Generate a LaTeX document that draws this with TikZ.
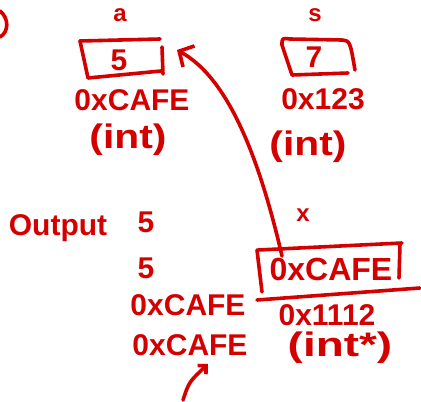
\documentclass[tikz,border=0pt]{standalone}
\usepackage{fontspec}
\setmainfont{Liberation Sans}
\usetikzlibrary{arrows.meta}
\definecolor{ink}{HTML}{D40000}
\tikzset{
  pen/.style={draw=ink, line width=3.6pt, line cap=round, line join=round},
  txt/.style={text=ink, inner sep=0pt, font=\bfseries\fontsize{30}{34}\selectfont},
  big/.style={txt, font=\bfseries\fontsize{32}{36}\selectfont},
  paren/.style={txt, font=\bfseries\fontsize{34}{38}\selectfont},
  small/.style={txt, font=\bfseries\fontsize{24}{28}\selectfont},
}
\begin{document}
\begin{tikzpicture}[x=1pt,y=-1pt]
\useasboundingbox (0,0) rectangle (421,402);
% fragment top-left
\draw[pen] (0,11) .. controls (9,18) and (9,32) .. (0,37);
% variable a
\node[small] (alab) at (120,15) {a};
\draw[pen] (80,41) -- (160,39);
\draw[pen] (80,41) -- (88,78) -- (161,71);
\draw[pen] (162,47) -- (163,74);
\node[txt] (aval) at (119,60) {5};
\node[txt] (aaddr) at (132,100) {0xCAFE};
\node[paren, xscale=1.2] (atype) at (128,140) {(int)};
% variable s
\node[small] (slab) at (315,15) {s};
\draw[pen] (282,45) .. controls (282,38) .. (290,39) -- (342,40) .. controls (350,41) .. (355,70);
\draw[pen] (282,45) -- (292,75) -- (348,73);
\node[txt] (sval) at (314,57) {7};
\node[txt] (saddr) at (323,99) {0x123};
\node[paren, xscale=1.2] (stype) at (308,147) {(int)};
% output
\node[txt] (out) at (58,228) {Output};
\node[txt] (o1) at (146,222) {5};
\node[txt] (o2) at (146,268) {5};
\node[txt] (o3) at (188,305) {0xCAFE};
\node[txt] (o4) at (190,345) {0xCAFE};
% variable x
\node[small] (xlab) at (303,215) {x};
\draw[pen] (258,250) -- (402,243);
\draw[pen] (257,250) -- (262,292);
\draw[pen] (400,244) -- (399,278);
\draw[pen] (257,300) -- (420,288);
\node[big] (xval) at (331,269) {0xCAFE};
\node[txt] (xaddr) at (327,315) {0x1112};
\node[paren, xscale=1.35] (xtype) at (340,348) {(int*)};
% pointer arrow
\coordinate (xptr) at (282,256);
\coordinate (atip) at (177,50);
\draw[pen, -{Straight Barb[length=11pt,width=24pt,line width=3.6pt]}] (xptr) .. controls (262,170) and (232,80) .. (atip);
% small arrow bottom
\coordinate (q1) at (183,400);
\coordinate (q2) at (208,364);
\draw[pen, -{Straight Barb[length=6pt,width=12pt,line width=3.6pt]}] (q1) .. controls (189,382) .. (q2);
\end{tikzpicture}
\end{document}
